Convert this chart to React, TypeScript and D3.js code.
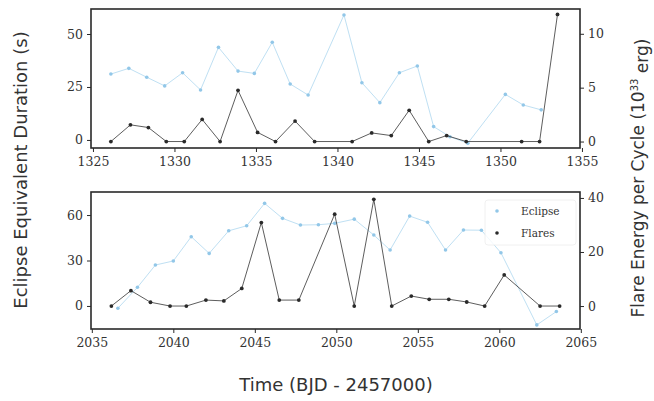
import React, { useEffect, useRef } from "react";
import * as d3 from "d3";

const W = 654;
const H = 401;

// top panel (sector 1)
const topEclipseT = [1326.1, 1327.2, 1328.3, 1329.4, 1330.5, 1331.6, 1332.7, 1333.9, 1334.9, 1336.0, 1337.1, 1338.2, 1340.4, 1341.5, 1342.6, 1343.8, 1344.9, 1345.9, 1346.9, 1348.0, 1350.3, 1351.4, 1352.5];
const topEclipse = [31.1, 33.8, 29.6, 25.5, 31.7, 23.6, 43.7, 32.5, 31.4, 46.1, 26.4, 21.2, 59.0, 27.0, 17.6, 31.7, 34.9, 6.3, 1.5, -1.5, 21.5, 16.5, 14.2];
const topFlareT = [1326.1, 1327.3, 1328.4, 1329.5, 1330.6, 1331.7, 1332.8, 1333.9, 1335.1, 1336.2, 1337.4, 1338.6, 1340.9, 1342.1, 1343.3, 1344.4, 1345.6, 1346.7, 1347.9, 1351.3, 1352.4, 1353.5];
const topFlare = [0, 1.55, 1.3, 0, 0, 2.05, 0, 4.75, 0.85, 0, 1.9, 0, 0, 0.8, 0.55, 2.9, 0, 0.55, 0, 0, 0, 11.8];

// bottom panel (sector 2)
const botEclipseT = [2036.6, 2037.8, 2038.9, 2040.0, 2041.1, 2042.2, 2043.4, 2044.5, 2045.6, 2046.7, 2047.8, 2048.9, 2049.9, 2051.1, 2052.3, 2053.3, 2054.5, 2055.6, 2056.7, 2057.8, 2058.9, 2060.1, 2062.3, 2063.5];
const botEclipse = [-1.5, 12.3, 27.0, 29.7, 45.7, 34.7, 49.6, 52.9, 67.7, 57.8, 53.4, 53.6, 54.5, 57.3, 46.8, 36.9, 59.3, 55.2, 36.9, 50.1, 50.0, 35.1, -12.5, -3.7];
const botFlareT = [2036.2, 2037.4, 2038.6, 2039.8, 2040.8, 2042.0, 2043.1, 2044.2, 2045.4, 2046.5, 2047.7, 2049.9, 2051.1, 2052.3, 2053.4, 2054.6, 2055.7, 2056.9, 2058.0, 2059.1, 2060.3, 2062.5, 2063.7];
const botFlare = [0, 5.7, 1.4, 0, 0, 2.2, 1.9, 6.5, 30.9, 2.2, 2.2, 34.0, 0, 39.5, 0, 3.7, 2.5, 2.5, 1.5, 0, 11.5, 0, 0];

const topXTicks = [1325, 1330, 1335, 1340, 1345, 1350, 1355];
const topLTicks = [0, 25, 50];
const topRTicks = [0, 5, 10];
const botXTicks = [2035, 2040, 2045, 2050, 2055, 2060, 2065];
const botLTicks = [0, 30, 60];
const botRTicks = [0, 20, 40];

const legendLabels = ["Eclipse", "Flares"];

const X0 = 91;
const X1 = 580;
const BLUE_LINE = "#bfe0f3";
const BLUE_DOT = "#92c7e8";
const DARK = "#2a2a2a";
const TICK_FONT = "'DejaVu Serif', serif";
const LABEL_FONT = "'DejaVu Sans', sans-serif";

type PanelProps = {
  top: number;
  bottom: number;
  xDomain: [number, number];
  lDomain: [number, number];
  rDomain: [number, number];
  xTicks: number[];
  lTicks: number[];
  rTicks: number[];
  eT: number[];
  eV: number[];
  fT: number[];
  fV: number[];
  legend?: boolean;
};

const Panel = (p: PanelProps) => {
  const axRef = useRef<SVGGElement>(null);
  const x = d3.scaleLinear().domain(p.xDomain).range([X0, X1]);
  const yl = d3.scaleLinear().domain(p.lDomain).range([p.bottom, p.top]);
  const yr = d3.scaleLinear().domain(p.rDomain).range([p.bottom, p.top]);

  useEffect(() => {
    const g = d3.select(axRef.current);
    g.selectAll("*").remove();
    const style = (sel: any) => {
      sel.select(".domain").remove();
      sel.selectAll("line").attr("stroke", DARK).attr("stroke-width", 1);
      sel.selectAll("text").attr("font-family", TICK_FONT).attr("font-size", 12.5).attr("fill", "#333");
    };
    g.append("g")
      .attr("transform", `translate(0,${p.bottom})`)
      .call(d3.axisBottom(x).tickValues(p.xTicks).tickSize(4).tickPadding(5).tickFormat(d3.format("d")))
      .call(style);
    g.append("g")
      .attr("transform", `translate(${X0},0)`)
      .call(d3.axisLeft(yl).tickValues(p.lTicks).tickSize(4).tickPadding(4).tickFormat(d3.format("d")))
      .call(style);
    g.append("g")
      .attr("transform", `translate(${X1},0)`)
      .call(d3.axisRight(yr).tickValues(p.rTicks).tickSize(4).tickPadding(4).tickFormat(d3.format("d")))
      .call(style);
  }, [p]);

  const eData = p.eT.map((t, i) => [t, p.eV[i]] as [number, number]);
  const fData = p.fT.map((t, i) => [t, p.fV[i]] as [number, number]);
  const eLine = d3.line<[number, number]>().x((d) => x(d[0])).y((d) => yl(d[1]));
  const fLine = d3.line<[number, number]>().x((d) => x(d[0])).y((d) => yr(d[1]));
  const clipId = `clip${p.top}`;

  return (
    <g>
      <clipPath id={clipId}>
        <rect x={X0} y={p.top} width={X1 - X0} height={p.bottom - p.top} />
      </clipPath>
      <g clipPath={`url(#${clipId})`}>
        <path d={eLine(eData) || ""} fill="none" stroke={BLUE_LINE} strokeWidth={1} />
        {eData.map((d, i) => (
          <circle key={"e" + i} cx={x(d[0])} cy={yl(d[1])} r={1.8} fill={BLUE_DOT} />
        ))}
        <path d={fLine(fData) || ""} fill="none" stroke={DARK} strokeWidth={0.9} opacity={0.85} />
        {fData.map((d, i) => (
          <circle key={"f" + i} cx={x(d[0])} cy={yr(d[1])} r={1.9} fill={DARK} />
        ))}
      </g>
      <rect x={X0} y={p.top} width={X1 - X0} height={p.bottom - p.top} fill="none" stroke={DARK} strokeWidth={1.6} />
      <g ref={axRef} />
      {p.legend && (
        <g>
          <rect x={485} y={200} width={91} height={45} rx={3} fill="white" fillOpacity={0.8} stroke="#ececec" strokeWidth={0.8} />
          {legendLabels.map((lab, i) => (
            <g key={lab}>
              <circle cx={497} cy={211 + i * 22} r={1.8} fill={i === 0 ? BLUE_DOT : DARK} />
              <text x={521} y={211 + i * 22} dy="0.35em" fontFamily={TICK_FONT} fontSize={10.5} fill="#333">
                {lab}
              </text>
            </g>
          ))}
        </g>
      )}
    </g>
  );
};

const App = () => {
  return (
    <svg width={W} height={H} style={{ position: "absolute", left: 0, top: 0, background: "white" }}>
      <Panel
        top={9}
        bottom={148}
        xDomain={[1324.88, 1354.88]}
        lDomain={[-3.8, 61.8]}
        rDomain={[-0.6, 12.3]}
        xTicks={topXTicks}
        lTicks={topLTicks}
        rTicks={topRTicks}
        eT={topEclipseT}
        eV={topEclipse}
        fT={topFlareT}
        fV={topFlare}
      />
      <Panel
        top={192}
        bottom={329}
        xDomain={[2034.95, 2064.95]}
        lDomain={[-15.2, 75.2]}
        rDomain={[-8.5, 42.2]}
        xTicks={botXTicks}
        lTicks={botLTicks}
        rTicks={botRTicks}
        eT={botEclipseT}
        eV={botEclipse}
        fT={botFlareT}
        fV={botFlare}
        legend
      />
      <text x={336} y={391} textAnchor="middle" fontFamily={LABEL_FONT} fontSize={18} fill="#333">
        Time (BJD - 2457000)
      </text>
      <text transform="translate(21,170) rotate(-90)" textAnchor="middle" dy="0.35em" fontFamily={LABEL_FONT} fontSize={18} fill="#333">
        Eclipse Equivalent Duration (s)
      </text>
      <text transform="translate(638,178) rotate(-90)" textAnchor="middle" dy="0.35em" fontFamily={LABEL_FONT} fontSize={17} fill="#333">
        Flare Energy per Cycle (10<tspan fontSize={10} dy="-0.6em">33</tspan>
        <tspan dy="0.6em"> erg)</tspan>
      </text>
    </svg>
  );
};

export default App;
